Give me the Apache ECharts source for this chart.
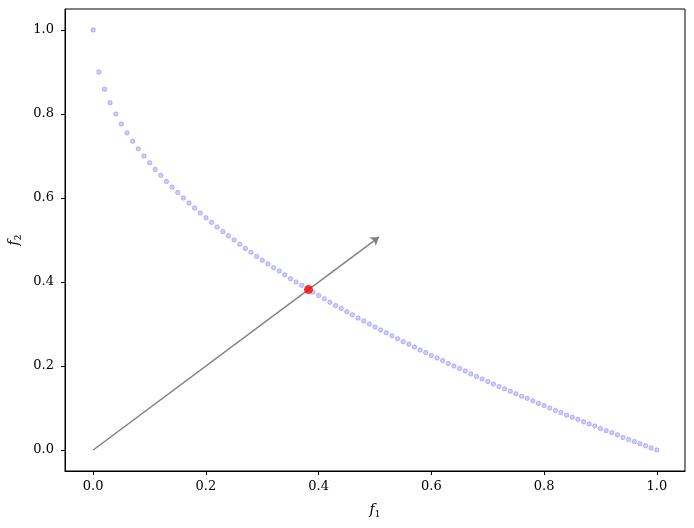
<!DOCTYPE html>
<html><head><meta charset="utf-8">
<script src="https://cdn.jsdelivr.net/npm/echarts@6/dist/echarts.min.js"></script>
<style>html,body{margin:0;padding:0;background:#fff}#c{width:694px;height:528px}</style>
</head><body><div id="c"></div>
<script>
const f1 = [0.00,0.01,0.02,0.03,0.04,0.05,0.06,0.07,0.08,0.09,0.10,0.11,0.12,0.13,0.14,0.15,0.16,0.17,0.18,0.19,0.20,0.21,0.22,0.23,0.24,0.25,0.26,0.27,0.28,0.29,0.30,0.31,0.32,0.33,0.34,0.35,0.36,0.37,0.38,0.39,0.40,0.41,0.42,0.43,0.44,0.45,0.46,0.47,0.48,0.49,0.50,0.51,0.52,0.53,0.54,0.55,0.56,0.57,0.58,0.59,0.60,0.61,0.62,0.63,0.64,0.65,0.66,0.67,0.68,0.69,0.70,0.71,0.72,0.73,0.74,0.75,0.76,0.77,0.78,0.79,0.80,0.81,0.82,0.83,0.84,0.85,0.86,0.87,0.88,0.89,0.90,0.91,0.92,0.93,0.94,0.95,0.96,0.97,0.98,0.99,1.00];
const f2 = [1.000,0.900,0.859,0.827,0.800,0.776,0.755,0.735,0.717,0.700,0.684,0.668,0.654,0.639,0.626,0.613,0.600,0.588,0.576,0.564,0.553,0.542,0.531,0.520,0.510,0.500,0.490,0.480,0.471,0.461,0.452,0.443,0.434,0.426,0.417,0.408,0.400,0.392,0.384,0.376,0.368,0.360,0.352,0.344,0.337,0.329,0.322,0.314,0.307,0.300,0.293,0.286,0.279,0.272,0.265,0.258,0.252,0.245,0.238,0.232,0.225,0.219,0.213,0.206,0.200,0.194,0.188,0.181,0.175,0.169,0.163,0.157,0.151,0.146,0.140,0.134,0.128,0.123,0.117,0.111,0.106,0.100,0.094,0.089,0.083,0.078,0.073,0.067,0.062,0.057,0.051,0.046,0.041,0.036,0.030,0.025,0.020,0.015,0.010,0.005,0.000];
const arrowStart = [0, 0];
const arrowEnd = [0.507, 0.507];
const pointF1 = [0.382];
const pointF2 = [0.382];
const xTicks = [0.0, 0.2, 0.4, 0.6, 0.8, 1.0];
const yTicks = [0.0, 0.2, 0.4, 0.6, 0.8, 1.0];

const FONT = '"DejaVu Serif", serif';
const curveData = f1.map((x, i) => [x, f2[i]]);
const pointData = pointF1.map((x, i) => [x, pointF2[i]]);

function axisCommon(ticks) {
  return {
    type: 'value', min: -0.05, max: 1.05,
    splitLine: {show: false},
    axisLine: {show: true, onZero: false, lineStyle: {color: '#000', width: 1}},
    axisTick: {show: true, length: 4, lineStyle: {color: '#000', width: 1},
      customValues: ticks},
    axisLabel: {customValues: ticks, color: '#000', fontFamily: FONT, fontSize: 13,
      formatter: v => v.toFixed(1)},
  };
}
const nameRich = {
  i: {fontFamily: FONT, fontStyle: 'italic', fontSize: 14, color: '#000'},
  s: {fontFamily: FONT, fontSize: 9, color: '#000', padding: [8, 0, 0, 0]}
};
const xAxis = Object.assign(axisCommon(xTicks), {
  name: '{i|f}{s|1}', nameLocation: 'middle', nameGap: 31, nameMoveOverlap: false,
  nameTextStyle: {rich: nameRich}
});
xAxis.axisLabel.margin = 9;
const yAxis = Object.assign(axisCommon(yTicks), {
  name: '{i|f}{s|2}', nameLocation: 'middle', nameGap: 42, nameMoveOverlap: false,
  nameTextStyle: {rich: nameRich}
});
yAxis.axisLabel.margin = 11;

const chart = echarts.init(document.getElementById('c'), null, {renderer: 'canvas'});
chart.setOption({
  animation: false,
  backgroundColor: '#fff',
  grid: {left: 65, right: 9, top: 9, bottom: 57, show: true, borderColor: '#000', borderWidth: 1,
    containLabel: false, outerBoundsMode: 'none'},
  xAxis: xAxis,
  yAxis: yAxis,
  series: [
    {type: 'scatter', data: curveData, symbolSize: 4.5,
      itemStyle: {color: 'rgba(0,0,255,0.25)', borderColor: 'rgba(0,0,255,0.25)', borderWidth: 1}, z: 2},
    {type: 'lines', coordinateSystem: 'cartesian2d',
      data: [{coords: [arrowStart, arrowEnd]}],
      symbol: ['none', 'arrow'], symbolSize: [6, 8],
      lineStyle: {color: '#808080', width: 1.5, opacity: 1}, z: 3},
    {type: 'scatter', data: pointData, symbolSize: 9,
      itemStyle: {color: '#ff0000'}, z: 4}
  ]
});
</script></body></html>
